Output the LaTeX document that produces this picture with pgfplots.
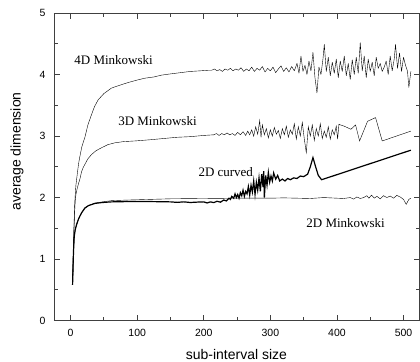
\documentclass[border=0pt]{standalone}
\usepackage{pgfplots}
\pgfplotsset{compat=1.18}
\usepackage{fontspec}
\setmainfont{Liberation Sans}
\newfontfamily\seriffont{Liberation Serif}
\begin{document}
\begin{tikzpicture}
\begin{axis}[
  at={(0,0)}, anchor=south west,
  scale only axis,
  width=366pt, height=308pt,
  xmin=-25, xmax=524, ymin=0, ymax=5,
  xtick={0,100,...,500}, ytick={0,1,...,5},
  minor x tick num=1, minor y tick num=1,
  tick align=inside,
  major tick length=6pt, minor tick length=4pt,
  axis line style={black!75, line width=0.8pt},
  every tick/.style={black!75, line width=0.8pt},
  /pgf/number format/assume math mode=true,
  tick label style={font=\fontsize{10.5}{12}\selectfont},
  xticklabel style={yshift=-5pt},
  yticklabel style={xshift=-5pt},
  xlabel={sub-interval size},
  ylabel={average dimension},
  label style={font=\fontsize{14}{16}\selectfont},
  xlabel style={at={(axis cs:249,-0.635)}, anchor=base},
  ylabel style={at={(axis cs:-75,2.75)}, anchor=base},
  cycle list={{black, line width=1pt, mark=none, line join=round}},
]
% 2D Minkowski
\addplot coordinates {
(3,0.58) (3.5,0.8) (4,1.0) (4.5,1.15) (5.5,1.37) (7,1.48) (9,1.56) (11.5,1.64) (14,1.7) (17,1.76) (21.5,1.83) (27,1.87) (36.5,1.91) (48,1.93) (61.5,1.95) (86.5,1.96) (118,1.97) (150,1.98) (200,1.985) (250,1.99) (300,1.99) (320,1.995) (340,1.99) (360,1.985) (380,2.0) (400,1.99) (410,1.985) (420,2.0) (425,1.975) (430,2.01) (435,1.985) (440,2.0) (445,2.03) (448,1.99) (452,2.04) (456,1.99) (460,2.02) (465,1.98) (470,2.03) (475,2.0) (480,2.025) (485,1.99) (490,2.035) (495,2.01) (500,1.97) (504,1.89) (508,1.97) (511,1.99)
};
% 2D curved
\addplot+[line width=1.2pt] coordinates {
(3,0.58) (3.5,0.8) (4,1.0) (4.5,1.15) (5.5,1.37) (7,1.48) (9,1.56) (11.5,1.64) (14,1.7) (17,1.76) (21.5,1.83) (27,1.87) (36.5,1.905) (48,1.92) (61.5,1.93) (86.5,1.935) (120,1.935) (150,1.93) (160,1.922) (170,1.93) (180,1.92) (190,1.926) (200,1.93) (205,1.912) (210,1.93) (215,1.918) (220,1.94) (225,1.925) (230,1.96) (234,1.945) (238,1.99) (240,1.97) (242,2.02) (245,1.99) (247,2.06) (249,2.0) (251,2.05) (253,1.99) (255,2.08) (257,2.03) (259,2.12) (261,2.02) (263,2.1) (265,2.06) (267,2.18) (269,2.04) (271,2.2) (273,2.09) (275,2.27) (277,2.05) (279,2.25) (281,2.12) (283,2.32) (285,2.1) (287,2.38) (289,2.17) (290,2.43) (291,2.0) (293,2.36) (295,2.2) (297,2.41) (299,2.25) (301,2.35) (303,2.27) (305,2.4) (308,2.3) (311,2.36) (314,2.27) (318,2.3) (322,2.27) (326,2.31) (330,2.29) (335,2.32) (340,2.31) (345,2.35) (350,2.34) (356,2.38) (360,2.5) (364,2.65) (368,2.5) (372,2.36) (377,2.29) (511,2.77)
};
% 3D Minkowski
\addplot coordinates {
(3,0.58) (4,1.05) (5,1.45) (6,1.75) (7,1.95) (8,2.05) (10,2.15) (12,2.23) (14,2.3) (16.5,2.42) (19,2.49) (21.5,2.54) (26,2.63) (31.5,2.7) (38,2.76) (46.5,2.81) (56,2.86) (66.5,2.89) (80,2.91) (96.5,2.92) (120,2.94) (140,2.96) (160,2.98) (180,2.99) (200,3.01) (215,3.02)
(219,3.04) (223,3.01) (227,3.04) (231,3.02) (235,3.05) (239,3.02) (243,3.04) (247,3.01) (251,3.06) (255,3.02) (259,3.07) (263,3.01) (266,3.08) (269,3.02) (272,3.1) (275,3.0) (278,3.15) (281,3.03) (284,3.25) (286,2.98) (288,3.18) (291,3.02) (294,3.12) (297,2.97) (300,3.1) (303,3.0) (306,3.14) (309,3.03) (312,3.09) (315,2.96) (318,3.12) (321,3.02) (324,3.16) (327,2.98) (330,3.1) (333,3.03) (336,3.2) (339,2.95) (342,3.15) (345,3.0) (348,3.22) (351,2.95) (354,2.73) (357,3.15) (360,3.0) (363,3.18) (366,2.93) (369,3.12) (372,3.0) (375,3.2) (378,2.96) (381,3.08) (384,2.98) (387,3.15) (390,2.95) (393,3.1) (396,3.02) (399,3.16) (401,2.95) (403,3.19) (411,3.16) (415,3.14) (421,3.11) (428,3.18) (434,2.92) (446,3.24) (458,3.3) (468,2.92) (511,3.08)
};
% 4D Minkowski
\addplot coordinates {
(3,0.58) (4,1.05) (5,1.5) (6,1.85) (7,2.05) (8,2.2) (10,2.38) (12,2.55) (14,2.67) (17,2.83) (21.5,2.98) (26,3.18) (31.5,3.35) (36,3.48) (41.5,3.59) (50,3.69) (61.5,3.78) (75,3.83) (86.5,3.87) (100,3.91) (111.5,3.94) (125,3.96) (136.5,3.99) (150,4.01) (165,4.03) (180,4.05) (195,4.06) (208,4.07)
(212,4.07) (216,4.09) (220,4.06) (224,4.08) (228,4.05) (232,4.09) (236,4.07) (240,4.1) (244,4.06) (248,4.09) (252,4.07) (256,4.11) (260,4.05) (264,4.09) (268,4.06) (272,4.12) (276,4.05) (280,4.1) (284,4.07) (288,4.13) (292,4.04) (296,4.1) (300,4.06) (304,4.12) (308,4.03) (312,4.09) (316,4.14) (320,4.05) (324,4.11) (328,4.04) (332,4.13) (336,4.06) (340,4.18) (343,4.02) (346,4.3) (349,4.05) (352,4.15) (355,4.0) (358,4.22) (361,4.06) (364,4.36) (367,3.95) (370,3.7) (373,4.12) (376,4.0) (379,4.25) (381,4.49) (384,4.05) (387,4.28) (390,3.98) (393,4.2) (396,4.02) (399,4.25) (402,3.95) (405,4.22) (408,4.05) (411,4.3) (414,3.98) (417,4.18) (420,3.92) (423,4.24) (426,4.0) (429,4.28) (432,4.02) (435,4.52) (438,4.06) (441,4.3) (444,3.95) (447,4.25) (450,4.05) (453,4.2) (456,3.98) (459,4.28) (462,4.1) (465,4.18) (468,4.05) (471,4.12) (474,4.22) (477,4.0) (480,4.3) (483,4.06) (486,4.25) (488,4.49) (491,4.1) (494,4.35) (497,4.05) (500,4.28) (503,4.15) (506,4.05) (508,3.79) (511,4.05)
};
\node[font=\seriffont\fontsize{13}{15}\selectfont] at (axis cs:64.5,4.24) {4D Minkowski};
\node[font=\seriffont\fontsize{13}{15}\selectfont] at (axis cs:130.5,3.24) {3D Minkowski};
\node[font=\seriffont\fontsize{13}{15}\selectfont] at (axis cs:233,2.42) {2D curved};
\node[font=\seriffont\fontsize{13}{15}\selectfont] at (axis cs:413,1.58) {2D Minkowski};
\end{axis}
\pgfresetboundingbox
\path[use as bounding box] (-54pt,-41pt) rectangle (366.5pt,321pt);
\end{tikzpicture}
\end{document}
